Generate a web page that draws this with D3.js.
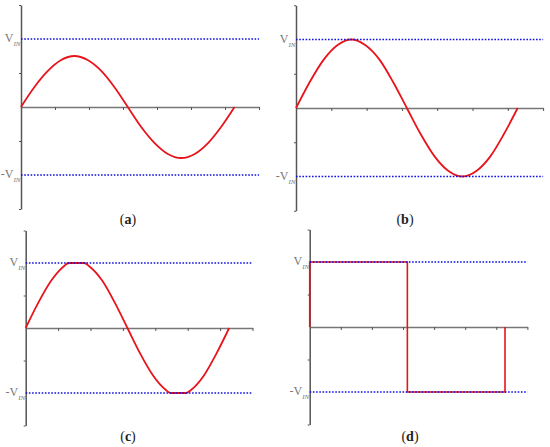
<!DOCTYPE html>
<html>
<head>
<meta charset="utf-8">
<script src="https://cdn.jsdelivr.net/npm/d3@7"></script>
<style>
  body { margin: 0; background: #fff; }
</style>
</head>
<body>
<div id="chart"></div>
<script>
// sample positions (radians)
const xs = [0, 0.39, 0.79, 1.18, 1.57, 1.96, 2.36, 2.75, 3.14, 3.53, 3.93, 4.32, 4.71, 5.11, 5.50, 5.89, 6.28]
// (a) sine with a smaller amplitude
const valsA = [0, 0.29, 0.53, 0.69, 0.75, 0.69, 0.53, 0.29, 0, -0.29, -0.53, -0.69, -0.75, -0.69, -0.53, -0.29, 0]
// (b) sine touching the rails
const valsB = [0, 0.38, 0.71, 0.92, 1, 0.92, 0.71, 0.38, 0, -0.38, -0.71, -0.92, -1, -0.92, -0.71, -0.38, 0]
// (c) slightly clipped sine
const xsC = [0, 0.39, 0.79, 1.18, 1.33, 1.57, 1.81, 1.96, 2.36, 2.75, 3.14, 3.53, 3.93, 4.32, 4.47, 4.71, 4.95, 5.11, 5.50, 5.89, 6.28]
const valsC = [0, 0.39, 0.73, 0.95, 1, 1, 1, 0.95, 0.73, 0.39, 0, -0.39, -0.73, -0.95, -1, -1, -1, -0.95, -0.73, -0.39, 0]
// (d) square wave
const xsD = [0, 0, 3.14, 3.14, 6.28, 6.28]
const valsD = [0, 1, 1, -1, -1, 0]

const xTicks = [1, 2, 3, 4, 5, 6, 7]
const yTicks = [-1.5, -0.5, 0.5, 1.5]
const captions = ['a', 'b', 'c', 'd']

const width = 550,
    height = 447

let svg = d3.select('#chart')
    .append('svg')
    .attr('width', width)
    .attr('height', height)

// each panel: origin x, px per x unit, zero y, px per y unit, caption spot
const panels = [
    { x0: 21, ux: 34, y0: 107, uy: 68, cx: 128, cy: 224, xs: xs, vals: valsA },
    { x0: 296, ux: 35.3, y0: 108, uy: 68.5, cx: 405, cy: 224, xs: xs, vals: valsB },
    { x0: 25.7, ux: 32.4, y0: 328, uy: 65, cx: 128, cy: 441, xs: xsC, vals: valsC },
    { x0: 309.7, ux: 31.1, y0: 327, uy: 65, cx: 410, cy: 441, xs: xsD, vals: valsD }
]

panels.forEach((p, i) => {
    const x = d3.scaleLinear().domain([0, 7]).range([p.x0, p.x0 + 7 * p.ux])
    const y = d3.scaleLinear().domain([-1.5, 1.5]).range([p.y0 + 1.5 * p.uy, p.y0 - 1.5 * p.uy])
    const g = svg.append('g')

    // x axis through zero
    g.append('g')
        .attr('transform', `translate(0,${y(0)})`)
        .call(d3.axisBottom(x).tickValues(xTicks).tickSize(3).tickSizeOuter(0).tickFormat(''))
        .call(a => a.select('.domain').attr('stroke', '#777').attr('stroke-width', 1.5))
        .call(a => a.selectAll('.tick line').attr('stroke', '#555'))

    // y axis
    g.append('g')
        .attr('transform', `translate(${x(0)},0)`)
        .call(d3.axisLeft(y).tickValues(yTicks).tickSize(2).tickSizeOuter(0).tickFormat(''))
        .call(a => a.select('.domain').attr('stroke', '#555').attr('stroke-width', 1.5))
        .call(a => a.selectAll('.tick line').attr('stroke', '#555'))

    const line = d3.line()
        .x((d, k) => x(p.xs[k]))
        .y(d => y(d))
    if (i < 3) line.curve(d3.curveMonotoneX)

    g.append('path')
        .datum(p.vals)
        .attr('d', line)
        .attr('fill', 'none')
        .attr('stroke', '#e8141b')
        .attr('stroke-width', i === 3 ? 1.6 : 1.8)

    // ±V_IN dotted rails
    ;[1, -1].forEach(v => {
        g.append('line')
            .attr('x1', x(0)).attr('x2', x(7))
            .attr('y1', y(v)).attr('y2', y(v))
            .attr('stroke', '#1010e0')
            .attr('stroke-width', 1.6)
            .attr('stroke-dasharray', '1.6,1.6')

        const t = g.append('text')
            .attr('x', x(0) - 0.5)
            .attr('y', y(v) + 3)
            .attr('text-anchor', 'end')
            .attr('fill', '#777')
            .style('font-family', 'Liberation Serif, serif')
        t.append('tspan')
            .attr('font-size', 12)
            .text(v < 0 ? '-V' : 'V')
        t.append('tspan')
            .attr('font-size', 7)
            .attr('font-style', 'italic')
            .attr('dy', 4)
            .text('IN')
    })

    // caption
    const c = svg.append('text')
        .attr('x', p.cx)
        .attr('y', p.cy)
        .attr('text-anchor', 'middle')
        .style('font-family', 'Liberation Serif, serif')
        .style('font-size', '14px')
        .attr('fill', '#222')
    c.append('tspan').text('(')
    c.append('tspan').attr('font-weight', 'bold').text(captions[i])
    c.append('tspan').text(')')
})
</script>
</body>
</html>
